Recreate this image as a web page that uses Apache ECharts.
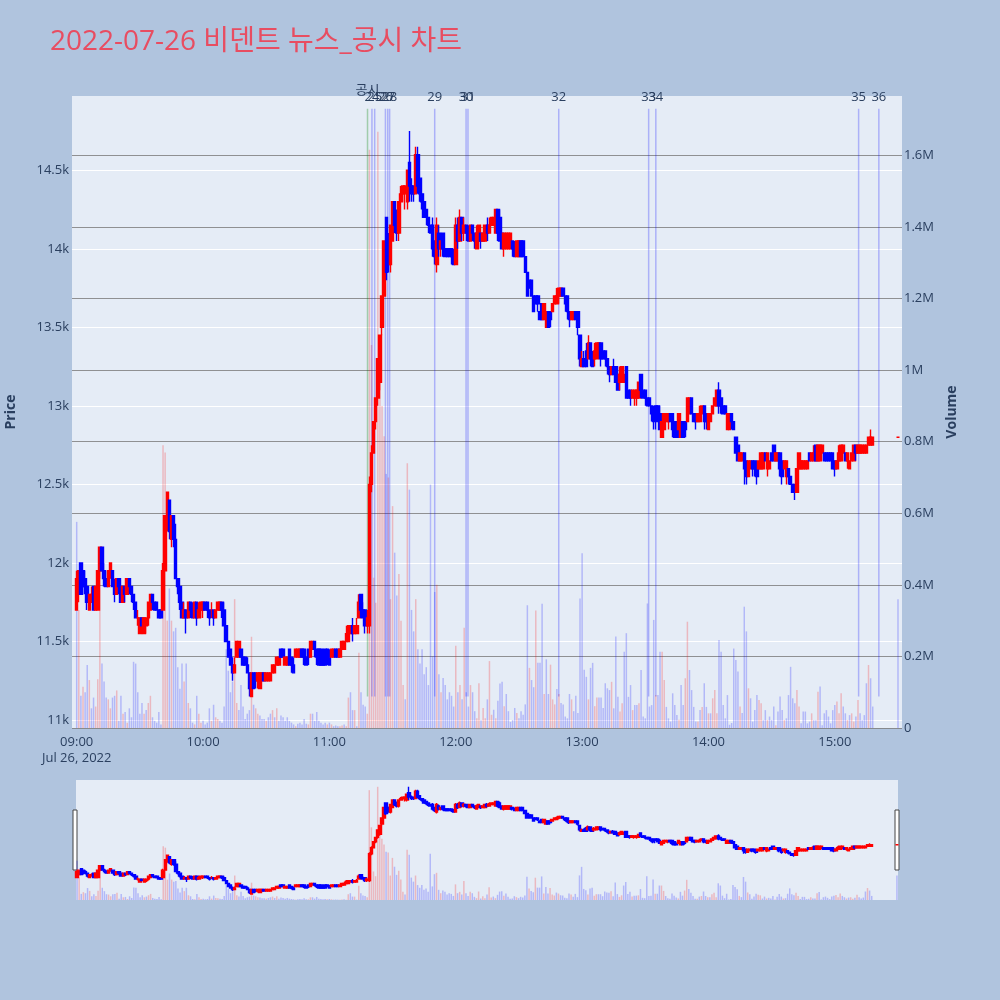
<!DOCTYPE html>
<html><head><meta charset="utf-8">
<script src="https://cdn.jsdelivr.net/npm/echarts@6/dist/echarts.min.js"></script>
<style>html,body{margin:0;padding:0;background:#B0C4DE}#c{width:1000px;height:1000px}</style>
</head><body><div id="c"></div>
<script>
const titleText = '2022-07-26 비덴트 뉴스_공시 차트';
const sessionDate = 'Jul 26, 2022';
const sessionStart = '09:00';
// one candle per minute from 09:00, each row: [open, close, low, high]
const candles = [
[11700,11900,11700,11950],[11800,11950,11750,11950],[12000,11800,11800,12000],[11950,11850,11800,11950],[11900,11850,11800,11950],[11850,11750,11700,11850],[11700,11800,11700,11800],[11750,11800,11750,11850],[11850,11700,11700,11850],[11700,11850,11700,11850],
[11700,11950,11700,11950],[11950,12100,11900,12100],[12100,11950,11950,12100],[11950,11900,11850,12000],[11900,11850,11850,11950],[11850,11950,11850,11950],[11950,12000,11900,12000],[11950,11850,11850,11950],[11850,11800,11750,11900],[11800,11900,11800,11900],
[11900,11850,11800,11900],[11850,11750,11750,11850],[11750,11850,11750,11850],[11850,11800,11750,11850],[11800,11900,11800,11900],[11900,11850,11800,11900],[11850,11800,11750,11850],[11800,11750,11700,11800],[11750,11650,11650,11750],[11650,11650,11600,11700],
[11550,11650,11550,11650],[11650,11600,11600,11650],[11550,11650,11550,11650],[11600,11650,11550,11650],[11650,11750,11600,11750],[11700,11800,11700,11800],[11800,11750,11700,11800],[11750,11700,11700,11750],[11750,11700,11700,11750],[11700,11650,11650,11700],
[11700,11650,11650,11700],[11700,11950,11700,12000],[11950,12300,11950,12300],[12250,12450,12200,12450],[12400,12200,12150,12400],[12150,12300,12100,12300],[12300,12150,12100,12300],[12150,11900,11900,12250],[11900,11850,11800,11900],[11850,11750,11700,11850],
[11750,11650,11650,11750],[11650,11700,11650,11750],[11700,11650,11550,11700],[11650,11750,11650,11750],[11750,11700,11650,11750],[11700,11650,11650,11750],[11650,11750,11650,11750],[11750,11650,11600,11750],[11650,11700,11650,11750],[11700,11750,11650,11750],
[11700,11750,11650,11750],[11750,11700,11700,11750],[11750,11700,11650,11750],[11700,11650,11600,11700],[11700,11700,11650,11750],[11700,11650,11600,11700],[11650,11700,11650,11700],[11700,11750,11700,11750],[11700,11750,11700,11750],[11750,11700,11650,11750],
[11700,11600,11600,11750],[11600,11500,11500,11600],[11500,11400,11400,11500],[11450,11350,11350,11450],[11350,11300,11250,11400],[11300,11350,11300,11400],[11400,11500,11400,11500],[11400,11500,11400,11500],[11450,11400,11400,11450],[11400,11350,11350,11400],
[11400,11350,11350,11400],[11350,11300,11300,11400],[11300,11200,11150,11300],[11150,11300,11150,11300],[11300,11200,11200,11300],[11300,11250,11200,11300],[11250,11300,11200,11300],[11200,11300,11200,11300],[11250,11300,11250,11300],[11300,11250,11250,11300],
[11250,11300,11250,11300],[11250,11300,11250,11300],[11250,11300,11250,11300],[11300,11350,11300,11350],[11300,11350,11300,11350],[11350,11400,11350,11400],[11350,11400,11350,11400],[11450,11400,11400,11450],[11450,11400,11400,11450],[11350,11400,11350,11400],
[11350,11400,11350,11400],[11450,11350,11350,11450],[11400,11350,11300,11400],[11350,11300,11300,11400],[11400,11450,11400,11450],[11400,11450,11400,11450],[11400,11450,11400,11450],[11450,11400,11400,11450],[11450,11400,11350,11450],[11400,11350,11350,11450],
[11450,11400,11350,11450],[11400,11500,11400,11500],[11450,11500,11450,11500],[11500,11450,11400,11500],[11450,11400,11350,11450],[11450,11350,11350,11450],[11450,11350,11350,11450],[11400,11350,11350,11450],[11450,11350,11350,11450],[11450,11400,11350,11450],
[11400,11350,11350,11450],[11400,11450,11400,11450],[11400,11450,11400,11450],[11450,11400,11400,11450],[11450,11400,11400,11450],[11400,11450,11400,11450],[11450,11500,11450,11500],[11450,11500,11450,11500],[11500,11550,11500,11600],[11500,11600,11500,11600],
[11550,11600,11550,11600],[11600,11550,11500,11650],[11550,11600,11550,11600],[11550,11600,11550,11650],[11650,11750,11650,11800],[11800,11700,11650,11800],[11700,11650,11650,11750],[11700,11600,11550,11700],[11600,11650,11550,11700],[11600,12500,11550,12550],
[12500,12700,12450,12750],[12700,12900,12700,12900],[12900,13050,12850,13050],[13050,13300,13000,13300],[13150,13450,13100,13450],[13500,13700,13450,13700],[13700,14050,13700,14050],[14200,13850,13800,14200],[14050,13900,13850,14100],[13900,14150,13850,14150],
[14050,14300,14050,14300],[14300,14150,14100,14300],[14200,14100,14050,14250],[14100,14300,14050,14300],[14300,14350,14300,14400],[14350,14400,14300,14400],[14350,14400,14250,14400],[14300,14500,14250,14500],[14550,14400,14300,14750],[14400,14350,14300,14450],
[14400,14350,14300,14400],[14350,14600,14350,14650],[14600,14400,14350,14650],[14450,14350,14300,14450],[14350,14300,14250,14350],[14300,14200,14200,14300],[14250,14200,14150,14250],[14200,14150,14100,14200],[14150,14100,14100,14150],[14150,14000,13950,14200],
[14050,13950,13900,14050],[13900,14150,13850,14200],[14100,14000,13950,14150],[14000,14050,13950,14050],[14100,14000,13950,14100],[14000,13950,13950,14000],[14000,13950,13950,14000],[14000,13950,13950,14000],[14000,13950,13900,14000],[13950,13900,13900,14000],
[13900,14150,13900,14200],[14150,14050,14000,14200],[14050,14200,14050,14250],[14200,14100,14050,14200],[14100,14150,14050,14200],[14150,14100,14050,14150],[14100,14050,14050,14150],[14050,14150,14050,14150],[14150,14100,14050,14150],[14100,14050,14000,14100],
[14000,14100,14000,14150],[14050,14150,14050,14150],[14100,14050,14000,14100],[14050,14100,14050,14100],[14050,14150,14050,14150],[14150,14100,14050,14200],[14100,14150,14100,14200],[14150,14200,14150,14200],[14150,14200,14150,14200],[14100,14250,14100,14250],
[14250,14100,14050,14250],[14200,14050,14050,14250],[14100,14000,14000,14100],[14000,14100,13950,14100],[14000,14100,14000,14100],[14000,14100,14000,14100],[14000,14100,14000,14100],[14050,14000,13950,14050],[14000,13950,13950,14050],[13950,14050,13950,14050],
[13950,14050,13950,14050],[14050,13950,13950,14050],[14050,13950,13950,14050],[13950,13850,13850,13950],[13850,13700,13700,13850],[13800,13750,13750,13800],[13800,13700,13700,13800],[13700,13600,13600,13700],[13700,13650,13650,13700],[13700,13650,13600,13700],
[13600,13550,13550,13600],[13650,13550,13550,13650],[13550,13650,13550,13650],[13500,13600,13500,13600],[13600,13500,13500,13600],[13600,13550,13500,13600],[13600,13650,13600,13650],[13650,13700,13650,13700],[13650,13700,13650,13750],[13700,13750,13650,13750],
[13700,13750,13700,13750],[13750,13700,13700,13750],[13700,13650,13600,13700],[13700,13600,13550,13700],[13600,13550,13500,13600],[13550,13600,13550,13600],[13550,13600,13550,13600],[13600,13550,13550,13600],[13600,13500,13450,13600],[13450,13300,13250,13450],
[13250,13300,13250,13350],[13300,13250,13250,13350],[13350,13250,13250,13400],[13300,13400,13300,13450],[13400,13300,13250,13400],[13300,13250,13250,13350],[13300,13350,13250,13400],[13300,13400,13300,13400],[13350,13400,13300,13400],[13400,13300,13250,13400],
[13350,13300,13300,13350],[13350,13300,13250,13350],[13300,13250,13200,13300],[13250,13200,13150,13250],[13200,13250,13200,13250],[13250,13200,13200,13300],[13250,13150,13150,13250],[13200,13100,13100,13200],[13150,13200,13100,13250],[13150,13250,13150,13250],
[13150,13200,13150,13250],[13250,13050,13050,13250],[13100,13050,13050,13100],[13100,13050,13000,13100],[13050,13100,13050,13100],[13050,13100,13000,13100],[13050,13100,13000,13100],[13050,13150,13050,13150],[13200,13100,13050,13200],[13100,13050,13050,13100],
[13100,13050,13000,13100],[13050,13000,13000,13050],[13050,13000,13000,13050],[13000,12950,12900,13000],[12950,12900,12850,13000],[13000,12950,12850,13000],[13000,12900,12900,13000],[12950,12850,12850,13000],[12800,12900,12800,12900],[12850,12950,12850,12950],
[12900,12950,12900,12950],[12900,12950,12850,12950],[12950,12900,12900,12950],[12950,12850,12800,12950],[12900,12800,12800,12900],[12850,12800,12800,12900],[12850,12950,12850,12950],[12800,12900,12800,12900],[12900,12800,12800,12900],[12900,12850,12800,12900],
[12900,13050,12900,13050],[12950,13050,12950,13050],[13050,12950,12950,13050],[12950,12900,12900,12950],[12950,12900,12850,12950],[12900,12950,12900,12950],[12900,12950,12900,13000],[12950,13000,12950,13000],[13000,12900,12850,13000],[12950,12900,12850,12950],
[12850,12950,12850,12950],[12900,12950,12900,12950],[12950,13000,12950,13000],[13000,13050,13000,13050],[13000,13100,13000,13100],[13100,13000,12950,13150],[13050,13000,12950,13050],[13000,12950,12950,13000],[13000,12950,12950,13000],[12850,12950,12850,12950],
[12850,12950,12850,12950],[12950,12900,12850,12950],[12900,12850,12850,12900],[12800,12700,12700,12800],[12750,12650,12650,12750],[12650,12700,12650,12700],[12650,12700,12650,12700],[12700,12600,12500,12700],[12650,12550,12500,12650],[12550,12650,12550,12650],
[12600,12650,12600,12650],[12650,12600,12550,12650],[12650,12600,12550,12650],[12600,12550,12500,12600],[12600,12650,12600,12650],[12600,12700,12600,12700],[12600,12700,12600,12700],[12700,12650,12650,12700],[12600,12700,12550,12700],[12600,12650,12600,12650],
[12700,12650,12650,12700],[12750,12650,12650,12750],[12650,12700,12650,12700],[12650,12700,12650,12700],[12700,12600,12550,12700],[12650,12550,12500,12650],[12600,12650,12600,12650],[12550,12650,12500,12650],[12600,12550,12500,12600],[12550,12500,12500,12550],
[12500,12450,12450,12500],[12500,12450,12400,12500],[12450,12600,12450,12600],[12600,12700,12600,12700],[12600,12650,12600,12650],[12600,12650,12600,12650],[12600,12650,12600,12650],[12600,12650,12600,12650],[12700,12650,12650,12700],[12650,12700,12650,12700],
[12650,12700,12650,12750],[12750,12650,12650,12750],[12650,12750,12650,12750],[12650,12750,12650,12750],[12700,12750,12650,12750],[12700,12650,12650,12700],[12700,12650,12650,12700],[12700,12650,12650,12700],[12700,12650,12650,12700],[12700,12600,12600,12700],
[12650,12600,12550,12650],[12600,12650,12600,12650],[12650,12700,12650,12750],[12650,12750,12650,12750],[12700,12750,12650,12750],[12700,12650,12650,12700],[12650,12700,12600,12700],[12600,12650,12600,12650],[12650,12700,12650,12700],[12650,12750,12650,12750],
[12750,12700,12650,12750],[12700,12750,12700,12750],[12700,12750,12700,12750],[12700,12750,12700,12750],[12700,12750,12700,12750],[12700,12750,12700,12750],[12750,12800,12750,12800],[12750,12800,12750,12850],[12750,12800,12750,12800]
];
// traded volume per minute, thousands of shares (same order as candles)
const volumesK = [
576,330,90,115,100,176,134,55,85,60,
136,450,180,130,85,80,55,85,90,105,
20,90,40,45,15,55,30,185,180,100,
40,70,40,50,70,90,30,20,15,45,
10,790,770,300,390,300,270,280,170,110,
180,130,180,70,55,15,10,90,40,15,
20,10,15,55,20,65,30,25,20,15,
60,220,160,100,130,360,70,50,120,60,
25,40,50,255,65,55,40,35,25,25,
20,30,40,50,30,55,20,35,30,20,
30,20,15,10,5,12,15,10,25,12,
10,40,40,20,45,20,15,10,15,10,
15,10,5,7,5,5,7,10,5,85,
100,50,50,5,210,100,65,60,40,1616,
1070,420,350,1666,1050,900,815,710,700,360,
620,490,370,430,300,120,80,740,666,330,
270,360,220,180,220,150,170,120,680,200,
380,400,150,100,140,120,80,100,90,60,
230,100,120,80,280,100,60,120,100,47,
27,125,22,56,27,80,187,37,51,27,
76,124,129,61,95,47,17,22,56,42,
27,47,37,66,343,168,134,114,328,182,
182,347,95,192,95,177,80,66,109,95,
70,66,32,27,95,80,47,90,42,362,
488,163,143,80,168,182,61,85,85,85,
56,125,111,106,129,55,256,87,46,69,
213,265,87,120,50,64,64,69,162,32,
27,348,60,64,302,92,92,213,213,134,
59,27,18,97,64,36,23,120,64,139,
297,162,106,59,18,18,50,59,125,59,
41,41,83,106,41,246,213,64,27,92,
9,14,222,190,158,60,42,339,270,111,
83,18,50,92,78,69,22,50,22,32,
22,60,8,46,88,50,22,27,92,171,
83,69,106,60,13,46,46,13,18,41,
22,22,101,116,8,41,50,32,13,50,
64,74,41,97,60,41,22,36,41,18,
32,78,41,22,36,125,176,139,60
];
const auctionTime = '15:30';
const auctionCandle = [12800, 12800, 12800, 12800];
const auctionVolume = 360000;

const priceTicks = [11000, 11500, 12000, 12500, 13000, 13500, 14000, 14500];
const volumeTicks = [0, 200000, 400000, 600000, 800000, 1000000, 1200000, 1400000, 1600000];
const timeTicks = ['09:00', '10:00', '11:00', '12:00', '13:00', '14:00', '15:00'];

const newsTimes  = ['11:18:06','11:20:12','11:21:30','11:26:36','11:27:42','11:28:36','11:50:00','12:04:54','12:05:48','12:48:54','13:31:36','13:35:00','15:11:18','15:20:54'];
const newsLabels = ['공시','24','25','26','27','28','29','30','31','32','33','34','35','36'];
const newsKinds  = ['disclosure','news','news','news','news','news','news','news','news','news','news','news','news','news'];

const FONT = "'Open Sans', 'Noto Sans CJK KR', sans-serif";
const TXT = '#2a3f5f';
const X_MIN = -2.23, X_MAX = 391.9;
const P_MIN = 10949, P_MAX = 14973;
const V_MAX = 1766000;

const toMin = s => { const p = s.split(':').map(Number); return p[0] * 60 + p[1] + (p[2] || 0) / 60 - 540; };
const fmtTime = m => { const t = Math.round(m) + 540; return String(Math.floor(t / 60)).padStart(2, '0') + ':' + String(t % 60).padStart(2, '0'); };

const start = toMin(sessionStart);
const candleData = candles.map((c, i) => [start + i, c[0], c[1], c[2], c[3]]);
candleData.push([toMin(auctionTime)].concat(auctionCandle));
const volAll = volumesK.map(v => v * 1000).concat([auctionVolume]);
const volData = candleData.map((d, i) => {
  const up = i > 0 && d[2] > candleData[i - 1][2];
  return { value: [d[0], volAll[i]], itemStyle: { color: up ? 'rgba(255,0,0,0.22)' : 'rgba(0,0,255,0.22)' } };
});
const newsData = newsTimes.map(t => [toMin(t), P_MIN]);
const timeTickVals = timeTicks.map(toMin);

const candleStyle = { color: '#ff0000', color0: '#0000ff', borderColor: '#ff0000', borderColor0: '#0000ff', borderWidth: 1.4 };

const chart = echarts.init(document.getElementById('c'), null, { renderer: 'canvas' });
chart.setOption({
  backgroundColor: '#B0C4DE',
  animation: false,
  title: { text: titleText, left: 45, top: 23, textStyle: { color: '#e84d61', fontSize: 28, fontWeight: 'normal', fontFamily: FONT } },
  grid: [
    { left: 72, right: 98, top: 96, bottom: 272, show: true, backgroundColor: '#E5ECF6', borderWidth: 0, outerBoundsMode: 'none', containLabel: false },
    { left: 76, right: 102, top: 780, bottom: 100, show: true, backgroundColor: '#E5ECF6', borderWidth: 0, outerBoundsMode: 'none', containLabel: false }
  ],
  xAxis: [
    { type: 'value', gridIndex: 0, min: X_MIN, max: X_MAX,
      axisLine: { show: false }, axisTick: { show: false, customValues: timeTickVals }, splitLine: { show: false },
      axisLabel: { customValues: timeTickVals, color: TXT, fontSize: 13, lineHeight: 16, margin: 6, fontFamily: FONT,
        formatter: v => v === start ? fmtTime(v) + '\n' + sessionDate : fmtTime(v) } },
    { type: 'value', gridIndex: 1, min: -0.5, max: 390.5, show: false }
  ],
  yAxis: [
    { type: 'value', gridIndex: 0, position: 'left', min: P_MIN, max: P_MAX,
      name: 'Price', nameLocation: 'middle', nameGap: 54, nameRotate: 90,
      nameTextStyle: { color: TXT, fontSize: 14, fontWeight: 'bold', fontFamily: FONT },
      axisLine: { show: false }, axisTick: { show: false, customValues: priceTicks },
      axisLabel: { customValues: priceTicks, color: TXT, fontSize: 13, margin: 3, fontFamily: FONT, formatter: v => (v / 1000) + 'k' },
      splitLine: { show: true, lineStyle: { color: '#ffffff', width: 1 } } },
    { type: 'value', gridIndex: 0, position: 'right', min: 0, max: V_MAX,
      name: 'Volume', nameLocation: 'middle', nameGap: 42, nameRotate: 90,
      nameTextStyle: { color: TXT, fontSize: 14, fontWeight: 'bold', fontFamily: FONT },
      axisLine: { show: false }, axisTick: { show: false, customValues: volumeTicks },
      axisLabel: { customValues: volumeTicks, color: TXT, fontSize: 13, margin: 2, fontFamily: FONT, formatter: v => v === 0 ? '0' : (v / 1e6) + 'M' },
      splitLine: { show: true, lineStyle: { color: 'rgba(128,128,128,0.85)', width: 1 } } },
    { type: 'value', gridIndex: 1, min: P_MIN, max: P_MAX, show: false },
    { type: 'value', gridIndex: 1, min: 0, max: V_MAX, show: false }
  ],
  series: [
    { type: 'bar', xAxisIndex: 0, yAxisIndex: 1, barWidth: 1.5, z: 1, silent: true, data: volData, encode: { x: 0, y: 1 } },
    { type: 'custom', xAxisIndex: 0, yAxisIndex: 0, z: 2, silent: true, clip: false, data: newsData, encode: { x: 0, y: 1 },
      renderItem: (params, api) => {
        const cs = params.coordSys;
        const i = params.dataIndex;
        const x = api.coord([api.value(0), api.value(1)])[0];
        const disc = newsKinds[i] === 'disclosure';
        return { type: 'group', children: [
          { type: 'line', shape: { x1: x, y1: cs.y + cs.height * 0.02, x2: x, y2: cs.y + cs.height * 0.95 },
            style: { stroke: disc ? 'rgba(0,128,0,0.3)' : 'rgba(0,0,255,0.25)', lineWidth: 1.5 } },
          { type: 'text', style: { text: newsLabels[i], x: x, y: cs.y + (disc ? -6 : 1), align: 'center', verticalAlign: 'middle',
            fill: TXT, fontSize: 13, fontFamily: FONT } }
        ] };
      } },
    { type: 'candlestick', xAxisIndex: 0, yAxisIndex: 0, z: 3, silent: true, barWidth: 3, data: candleData,
      encode: { x: 0, y: [1, 2, 3, 4] }, itemStyle: candleStyle },
    { type: 'bar', xAxisIndex: 1, yAxisIndex: 3, barWidth: 1.5, z: 1, silent: true, data: volData, encode: { x: 0, y: 1 } },
    { type: 'candlestick', xAxisIndex: 1, yAxisIndex: 2, z: 3, silent: true, barWidth: 3, data: candleData,
      encode: { x: 0, y: [1, 2, 3, 4] }, itemStyle: candleStyle }
  ],
  graphic: [
    { type: 'rect', shape: { x: 73, y: 810, width: 4, height: 60 }, style: { fill: '#ffffff', stroke: '#444444', lineWidth: 1 } },
    { type: 'rect', shape: { x: 895, y: 810, width: 4, height: 60 }, style: { fill: '#ffffff', stroke: '#444444', lineWidth: 1 } }
  ]
});
</script></body></html>
